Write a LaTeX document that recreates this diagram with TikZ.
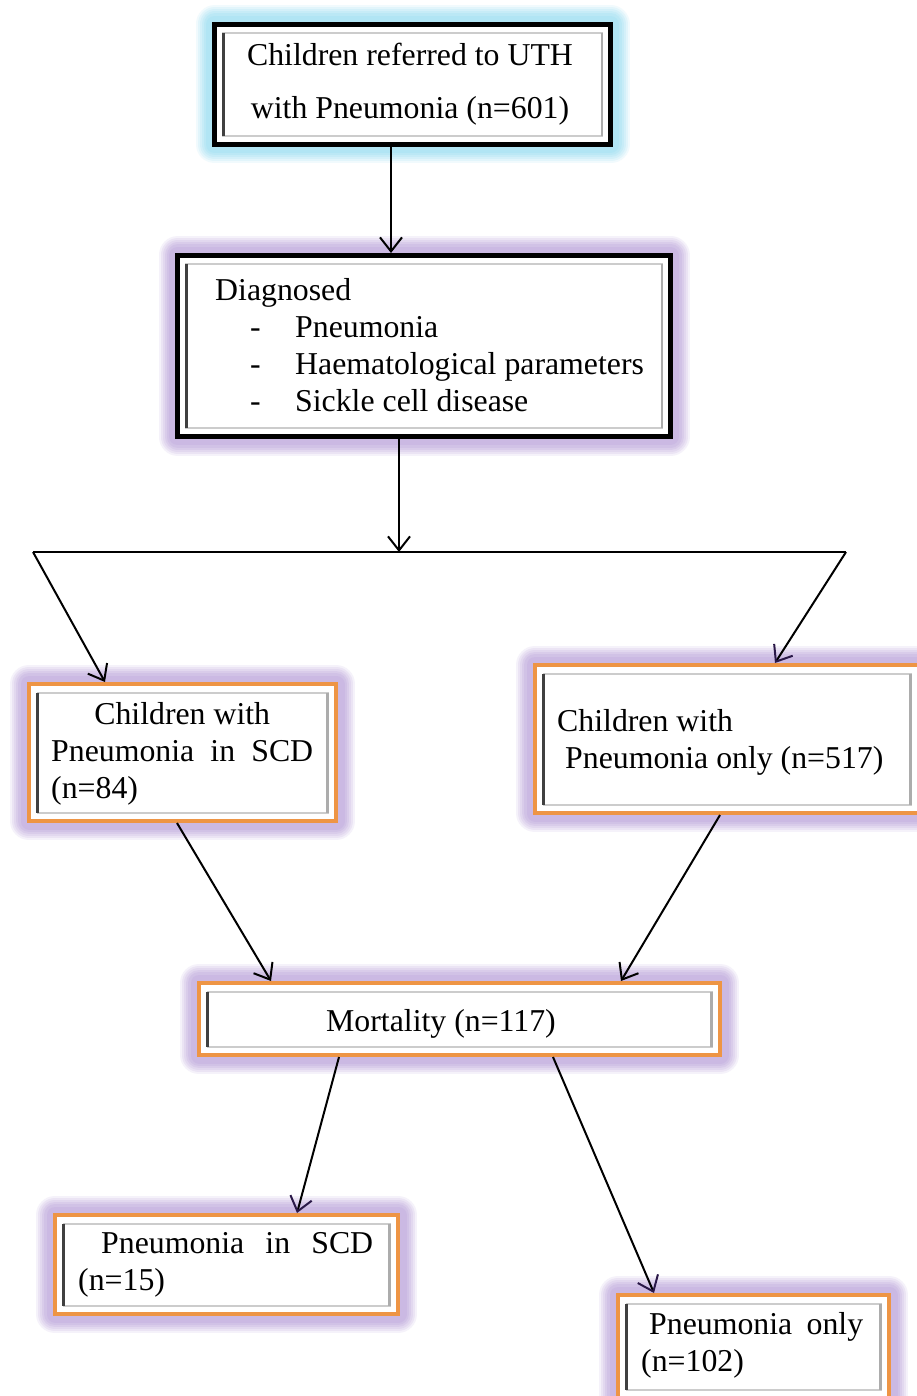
\documentclass[tikz,border=0pt]{standalone}
\usepackage{fontspec}
\setmainfont{Liberation Serif}
\usetikzlibrary{arrows.meta,calc}
\definecolor{cyanglow}{HTML}{9FE0F3}
\definecolor{purpglow}{HTML}{BFA9DE}
\definecolor{orangeb}{HTML}{EE9545}
\definecolor{navyarr}{HTML}{2A1848}
\begin{document}
\begin{tikzpicture}[x=1pt,y=-1pt,
  glow/.style={
    preaction={draw=#1,line width=38pt,opacity=0.14,line join=round},
    preaction={draw=#1,line width=34pt,opacity=0.18,line join=round},
    preaction={draw=#1,line width=30pt,opacity=0.2,line join=round},
    preaction={draw=#1,line width=26pt,opacity=0.24,line join=round},
    preaction={draw=#1,line width=22pt,opacity=0.28,line join=round},
    preaction={draw=#1,line width=17pt,opacity=0.32,line join=round}},
  frame/.style={path picture={
    \draw[gray!40,line width=2pt]
      ([shift={(8.5pt,-8.5pt)}]path picture bounding box.north west) rectangle
      ([shift={(-8.5pt,8.5pt)}]path picture bounding box.south east);
    \draw[black!75,line width=3pt]
      ([shift={(8.5pt,-8.5pt)}]path picture bounding box.north west) --
      ([shift={(8.5pt,8.5pt)}]path picture bounding box.south west);
    \draw[gray!65,line width=2.5pt]
      ([shift={(-8.5pt,-8.5pt)}]path picture bounding box.north east) --
      ([shift={(-8.5pt,8.5pt)}]path picture bounding box.south east);
  }},
  blackbox/.style={draw=black,line width=5pt,fill=white,frame,inner sep=0pt},
  orangebox/.style={draw=orangeb,line width=4pt,fill=white,frame,inner sep=0pt,glow=purpglow},
  txt/.style={inner sep=0pt,align=left,font=\fontsize{31.8}{37}\selectfont},
  line/.style={draw=black,line width=2pt},
  arr/.style={draw=black,line width=2pt,-{Straight Barb[length=14pt,width=22pt,color=#1]}},
  arr/.default=black
]
\fill[white] (0,0) rectangle (917,1396);
\useasboundingbox (0,0) rectangle (917,1396);

% boxes
\node[blackbox,glow=cyanglow,minimum width=396pt,minimum height=120pt] (top) at (412.5,84.5) {};
\node[blackbox,glow=purpglow,minimum width=493pt,minimum height=181pt] (diag) at (424,346) {};
\node[orangebox,minimum width=307pt,minimum height=137pt] (scd) at (182.5,752.5) {};
\node[orangebox,minimum width=384pt,minimum height=148pt] (only) at (727,739) {};
\node[orangebox,minimum width=521pt,minimum height=72pt] (mort) at (459.5,1019) {};
\node[orangebox,minimum width=343pt,minimum height=99pt] (pscd) at (226.5,1264.5) {};
\node[orangebox,minimum width=271pt,minimum height=103pt] (ponly) at (753.5,1346.5) {};

% texts
\node[txt,align=center,font=\fontsize{31.8}{53}\selectfont] (topT) at (410,84)
  {Children referred to UTH\\with Pneumonia (n=601)};
\node[txt,anchor=west] (diagT) at (215,345.5)
  {Diagnosed\\
   \makebox[80pt][l]{\hspace*{35pt}-}Pneumonia\\
   \makebox[80pt][l]{\hspace*{35pt}-}Haematological parameters\\
   \makebox[80pt][l]{\hspace*{35pt}-}Sickle cell disease};
\node[txt,anchor=west] (scdT) at (51,754)
  {\makebox[262pt][c]{Children with}\\
   \makebox[262pt][s]{Pneumonia in SCD}\\
   (n=84)};
\node[txt,anchor=west] (onlyT) at (557,742)
  {Children with\\
   \hspace*{8pt}Pneumonia only (n=517)};
\node[txt,anchor=base] (mortT) at (441,1031) {Mortality (n=117)};
\node[txt,anchor=west] (pscdT) at (78,1265)
  {\hspace*{23pt}\makebox[272pt][s]{Pneumonia in SCD}\\
   (n=15)};
\node[txt,anchor=west] (ponlyT) at (641,1345)
  {\hspace*{8pt}\makebox[214pt][s]{Pneumonia only}\\
   (n=102)};

% connectors
\coordinate (jl) at (33,552);
\coordinate (jr) at (846,552);
\coordinate (jm) at (399,552);
\draw[arr] ([xshift=-21.5pt]top.south) -- ([xshift=-33pt]diag.north);
\draw[arr] ([xshift=-25pt]diag.south) -- (jm);
\draw[line] (jl) -- (jr);
\draw[arr] (jl) -- ([xshift=-77.5pt]scd.north);
\draw[arr=navyarr] (jr) -- ([xshift=48pt]only.north);
\draw[arr] ([xshift=-5.5pt]scd.south) -- ([xshift=-188.5pt]mort.north);
\draw[arr] ([xshift=-7pt]only.south) -- ([xshift=161.5pt]mort.north);
\draw[arr=navyarr] ([xshift=-120.5pt]mort.south) -- ([xshift=70.5pt]pscd.north);
\draw[arr=navyarr] ([xshift=93.5pt]mort.south) -- ([xshift=-99.5pt]ponly.north);
\end{tikzpicture}
\end{document}
